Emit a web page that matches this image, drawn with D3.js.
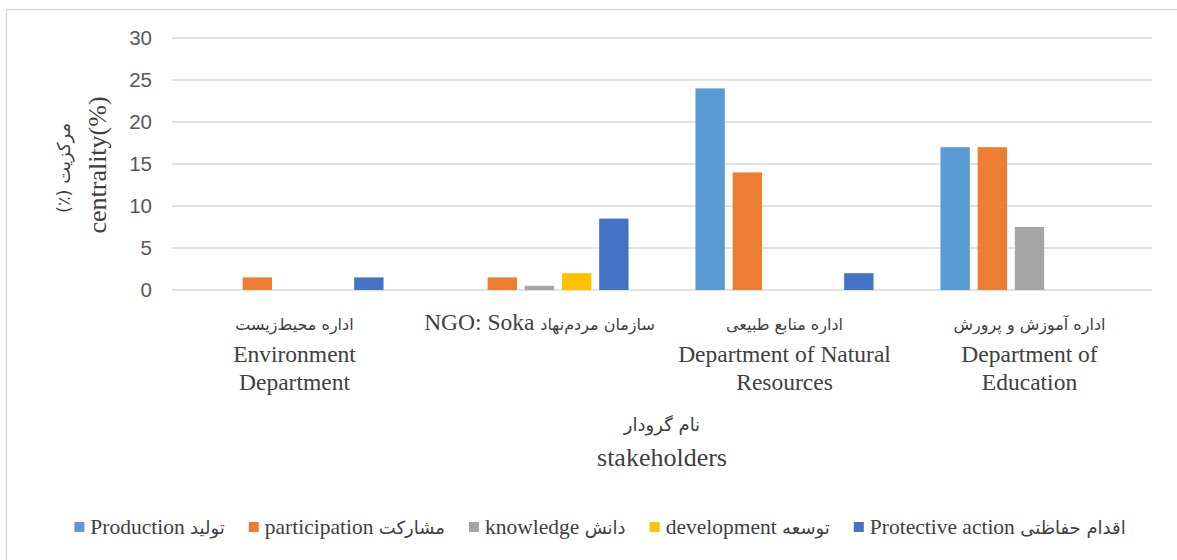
<!DOCTYPE html>
<html>
<head>
<meta charset="utf-8">
<script src="https://cdn.jsdelivr.net/npm/d3@7"></script>
<style>
  body { margin: 0; background: #fff; }
  svg { display: block; }
</style>
</head>
<body>
<svg id="chart" width="1177" height="560"></svg>
<script>
// categories (persian line + english lines)
const categoryKeys = ["env", "ngo", "nat", "edu"];
const categoryFa = ["اداره محیط‌زیست", "سازمان مردم‌نهاد", "اداره منابع طبیعی", "اداره آموزش و پرورش"];
const categoryEn = [["Environment", "Department"], ["NGO: Soka"], ["Department of Natural", "Resources"], ["Department of", "Education"]];

// series
const seriesEn = ["Production", "participation", "knowledge", "development", "Protective action"];
const seriesFa = ["تولید", "مشارکت", "دانش", "توسعه", "اقدام حفاظتی"];
const seriesColors = ["#5B9BD5", "#ED7D31", "#A5A5A5", "#FFC000", "#4472C4"];

// values per series, one per category
const production = [0, 0, 24, 17];
const participation = [1.5, 1.5, 14, 17];
const knowledge = [0, 0.5, 0, 7.5];
const development = [0, 2, 0, 0];
const protectiveAction = [1.5, 8.5, 2, 0];
const seriesValues = [production, participation, knowledge, development, protectiveAction];

const yTicks = [0, 5, 10, 15, 20, 25, 30];

const svg = d3.select("#chart");
const margin = {left: 172, right: 25, top: 38, bottom: 270};
const W = 1177, H = 560;
const plotW = W - margin.left - margin.right;
const plotH = H - margin.top - margin.bottom;

const serif = "'Liberation Serif', 'Times New Roman', serif";
const faFont = "'DejaVu Sans', sans-serif";

// outer border
svg.append("rect")
  .attr("x", 6.5).attr("y", 9.5)
  .attr("width", 1200).attr("height", 600)
  .attr("fill", "none").attr("stroke", "#D9D9D9").attr("stroke-width", 1.5);

const g = svg.append("g").attr("transform", `translate(${margin.left},${margin.top})`);

const x0 = d3.scaleBand().domain(categoryKeys).range([0, plotW]).padding(0);
const x1 = d3.scaleBand().domain(seriesEn).range([0, x0.bandwidth()])
  .paddingInner(0.21).paddingOuter(0.9);
const y = d3.scaleLinear().domain([0, 30]).range([plotH, 0]);

// gridlines
g.append("g").selectAll("line").data(yTicks).enter().append("line")
  .attr("x1", 0).attr("x2", plotW)
  .attr("y1", d => y(d)).attr("y2", d => y(d))
  .attr("stroke", "#D9D9D9").attr("stroke-width", 1.5);

// y axis labels
const yAxis = g.append("g").call(d3.axisLeft(y).tickValues(yTicks).tickSize(0).tickPadding(20));
yAxis.select(".domain").remove();
yAxis.selectAll("text")
  .attr("font-family", "'Liberation Sans', Arial, sans-serif")
  .attr("font-size", 20.5).attr("fill", "#595959");

// bars
const groups = g.append("g").selectAll("g").data(categoryKeys).enter().append("g")
  .attr("transform", d => `translate(${x0(d)},0)`);
groups.selectAll("rect")
  .data((d, i) => seriesEn.map((s, j) => ({s: s, v: seriesValues[j][i], c: seriesColors[j]})))
  .enter().append("rect")
  .attr("x", d => x1(d.s))
  .attr("width", x1.bandwidth())
  .attr("y", d => y(d.v))
  .attr("height", d => plotH - y(d.v))
  .attr("fill", d => d.c);

// category labels
const catG = svg.append("g");
categoryKeys.forEach((k, i) => {
  const cx = margin.left + x0(k) + x0.bandwidth() / 2;
  if (categoryEn[i].length === 1) {
    const t = catG.append("text").attr("x", cx).attr("y", 330)
      .attr("text-anchor", "middle").attr("fill", "#404040");
    t.append("tspan").attr("font-family", serif).attr("font-size", 23.5).text(categoryEn[i][0] + " ");
    t.append("tspan").attr("font-family", faFont).attr("font-size", 16).text(categoryFa[i]);
  } else {
    catG.append("text").attr("x", cx).attr("y", 330)
      .attr("text-anchor", "middle").attr("fill", "#404040")
      .attr("font-family", faFont).attr("font-size", 16).text(categoryFa[i]);
    categoryEn[i].forEach((line, li) => {
      catG.append("text").attr("x", cx).attr("y", 362 + li * 28)
        .attr("text-anchor", "middle").attr("fill", "#404040")
        .attr("font-family", serif).attr("font-size", 23.5).text(line);
    });
  }
});

// x axis title
const xt = margin.left + plotW / 2;
svg.append("text").attr("x", xt).attr("y", 431).attr("text-anchor", "middle")
  .attr("fill", "#404040").attr("font-family", faFont).attr("font-size", 18).text("نام گرودار");
svg.append("text").attr("x", xt).attr("y", 466).attr("text-anchor", "middle")
  .attr("fill", "#404040").attr("font-family", serif).attr("font-size", 26).text("stakeholders");

// y axis title
const ytY = 165;
svg.append("text").attr("transform", `translate(106,${ytY}) rotate(-90)`).attr("text-anchor", "middle")
  .attr("fill", "#404040").attr("font-family", serif).attr("font-size", 26).text("centrality(%)");
svg.append("text").attr("transform", `translate(70,${ytY + 3}) rotate(-90)`).attr("text-anchor", "middle")
  .attr("direction", "rtl").attr("unicode-bidi", "embed")
  .attr("fill", "#404040").attr("font-family", faFont).attr("font-size", 18).text("مرکزیت (٪)");

// legend
const leg = svg.append("g");
const legGap = 24;
let lx = 0;
seriesEn.forEach((s, i) => {
  const it = leg.append("g");
  it.append("rect").attr("x", 0).attr("y", -12).attr("width", 10).attr("height", 10).attr("fill", seriesColors[i]);
  const t = it.append("text").attr("x", 16).attr("y", 0).attr("fill", "#404040");
  t.append("tspan").attr("font-family", serif).attr("font-size", 21.5).text(s + "  ");
  t.append("tspan").attr("font-family", faFont).attr("font-size", 18).text(seriesFa[i]);
  const w = 16 + t.node().getComputedTextLength();
  it.attr("transform", `translate(${lx},0)`);
  lx += w + legGap;
});
const legW = lx - legGap;
leg.attr("transform", `translate(${600 - legW / 2},534)`);
</script>
</body>
</html>
